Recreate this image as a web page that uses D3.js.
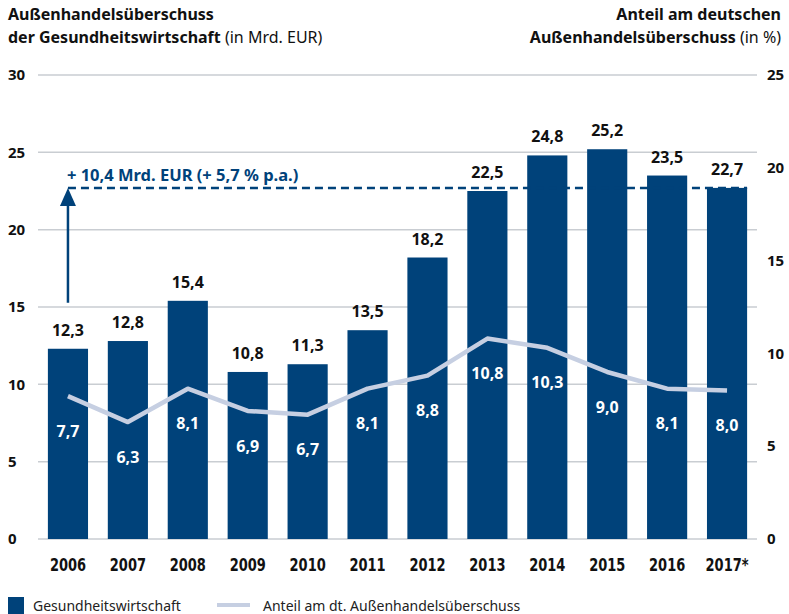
<!DOCTYPE html>
<html>
<head>
<meta charset="utf-8">
<script src="https://cdn.jsdelivr.net/npm/d3@7"></script>
<style>
  body { margin: 0; background: #fff; }
  svg { display: block; font-family: "Noto Sans", sans-serif; }
</style>
</head>
<body>
<script>
const years = ["2006", "2007", "2008", "2009", "2010", "2011", "2012", "2013", "2014", "2015", "2016", "2017*"];
const surplus = [12.3, 12.8, 15.4, 10.8, 11.3, 13.5, 18.2, 22.5, 24.8, 25.2, 23.5, 22.7];
const share = [7.7, 6.3, 8.1, 6.9, 6.7, 8.1, 8.8, 10.8, 10.3, 9.0, 8.1, 8.0];
const leftTicks = [0, 5, 10, 15, 20, 25, 30];
const rightTicks = [0, 5, 10, 15, 20, 25];
const annotation = "+ 10,4 Mrd. EUR (+ 5,7 % p.a.)";

const width = 789, height = 614;
const margin = {top: 75, right: 32, bottom: 75, left: 38};
const barColor = "#00427a", lineColor = "#c6cfe2", gridColor = "#c9cdd2";
const fmt = v => d3.format(".1f")(v).replace(".", ",");

const svg = d3.select("body").append("svg")
    .attr("width", width)
    .attr("height", height);

const x = d3.scaleBand()
    .domain(years)
    .range([margin.left, width - margin.right])
    .paddingInner(0.33)
    .paddingOuter(0.165);

const y = d3.scaleLinear().domain([0, 30]).range([height - margin.bottom, margin.top]);
const y2 = d3.scaleLinear().domain([0, 25]).range([height - margin.bottom, margin.top]);

// titles
const tl = svg.append("text").attr("font-size", 16).attr("fill", "#111");
tl.append("tspan").attr("x", 8).attr("y", 20).attr("font-weight", 700).text("Außenhandelsüberschuss");
tl.append("tspan").attr("x", 8).attr("y", 43).attr("font-weight", 700).text("der Gesundheitswirtschaft");
tl.append("tspan").text(" (in Mrd. EUR)");

const tr = svg.append("text").attr("font-size", 16).attr("fill", "#111").attr("text-anchor", "end");
tr.append("tspan").attr("x", 781).attr("y", 20).attr("font-weight", 700).text("Anteil am deutschen");
const tr2 = tr.append("tspan").attr("x", 781).attr("y", 43);
tr2.append("tspan").attr("font-weight", 700).text("Außenhandelsüberschuss");
tr2.append("tspan").text(" (in %)");

// grid
svg.append("g")
  .selectAll("line")
  .data(leftTicks)
  .join("line")
    .attr("x1", margin.left).attr("x2", width - margin.right)
    .attr("y1", d => y(d)).attr("y2", d => y(d))
    .attr("stroke", gridColor).attr("stroke-width", 1.5);

// left axis labels
svg.append("g")
    .attr("font-size", 15).attr("font-weight", 700).attr("fill", "#111")
  .selectAll("text")
  .data(leftTicks)
  .join("text")
    .attr("x", 8).attr("y", d => y(d)).attr("dy", "0.35em")
    .text(d => d);

// right axis labels
svg.append("g")
    .attr("font-size", 15).attr("font-weight", 700).attr("fill", "#111")
  .selectAll("text")
  .data(rightTicks)
  .join("text")
    .attr("x", 767).attr("y", d => y2(d)).attr("dy", "0.35em")
    .text(d => d);

// bars
svg.append("g")
    .attr("fill", barColor)
  .selectAll("rect")
  .data(surplus)
  .join("rect")
    .attr("x", (d, i) => x(years[i]))
    .attr("width", x.bandwidth())
    .attr("y", d => y(d))
    .attr("height", d => y(0) - y(d));

// bar value labels
svg.append("g")
    .attr("font-size", 16).attr("font-weight", 700).attr("fill", "#111").attr("text-anchor", "middle")
  .selectAll("text")
  .data(surplus)
  .join("text")
    .attr("x", (d, i) => x(years[i]) + x.bandwidth() / 2)
    .attr("y", d => y(d) - 13)
    .text(fmt);

// line
const line = d3.line()
    .x((d, i) => x(years[i]) + x.bandwidth() / 2)
    .y(d => y2(d));

svg.append("path")
    .datum(share)
    .attr("fill", "none")
    .attr("stroke", lineColor)
    .attr("stroke-width", 4.5)
    .attr("stroke-linejoin", "round")
    .attr("d", line);

// share labels
svg.append("g")
    .attr("font-size", 16).attr("font-weight", 700).attr("fill", "#fff").attr("text-anchor", "middle")
  .selectAll("text")
  .data(share)
  .join("text")
    .attr("x", (d, i) => x(years[i]) + x.bandwidth() / 2)
    .attr("y", d => y2(d) + 35)
    .attr("dy", "0.35em")
    .text(fmt);

// year labels (narrow, tall)
svg.append("g")
    .attr("font-family", "'DejaVu Sans Condensed', 'DejaVu Sans', sans-serif")
    .attr("font-size", 17).attr("font-weight", 700).attr("fill", "#111").attr("text-anchor", "middle")
  .selectAll("text")
  .data(years)
  .join("text")
    .attr("transform", d => `translate(${x(d) + x.bandwidth() / 2},${y(0) + 32}) scale(0.85,1)`)
    .text(d => d);

// annotation
const first = years[0], last = years[years.length - 1];
const ax = x(first) + x.bandwidth() / 2;
const ay = y(surplus[surplus.length - 1]);

svg.append("line")
    .attr("x1", ax).attr("x2", x(last) + x.bandwidth())
    .attr("y1", ay).attr("y2", ay)
    .attr("stroke", barColor).attr("stroke-width", 2.5)
    .attr("stroke-dasharray", "8,5");

svg.append("line")
    .attr("x1", ax).attr("x2", ax)
    .attr("y1", y(surplus[0]) - 46).attr("y2", ay + 14)
    .attr("stroke", barColor).attr("stroke-width", 2.5);

svg.append("path")
    .attr("d", d3.line()([[ax - 8, ay + 18], [ax, ay], [ax + 8, ay + 18]]))
    .attr("fill", barColor);

svg.append("text")
    .attr("x", ax - 1).attr("y", ay - 7)
    .attr("font-size", 16.5).attr("font-weight", 700).attr("fill", barColor)
    .text(annotation);

// legend
svg.append("rect")
    .attr("x", 8).attr("y", 597).attr("width", 16).attr("height", 17)
    .attr("fill", barColor);
svg.append("text")
    .attr("x", 33).attr("y", 611).attr("font-size", 14).attr("fill", "#222")
    .text("Gesundheitswirtschaft");
svg.append("line")
    .attr("x1", 217).attr("x2", 250).attr("y1", 605).attr("y2", 605)
    .attr("stroke", lineColor).attr("stroke-width", 4);
svg.append("text")
    .attr("x", 263).attr("y", 611).attr("font-size", 14).attr("fill", "#222")
    .text("Anteil am dt. Außenhandelsüberschuss");
</script>
</body>
</html>
